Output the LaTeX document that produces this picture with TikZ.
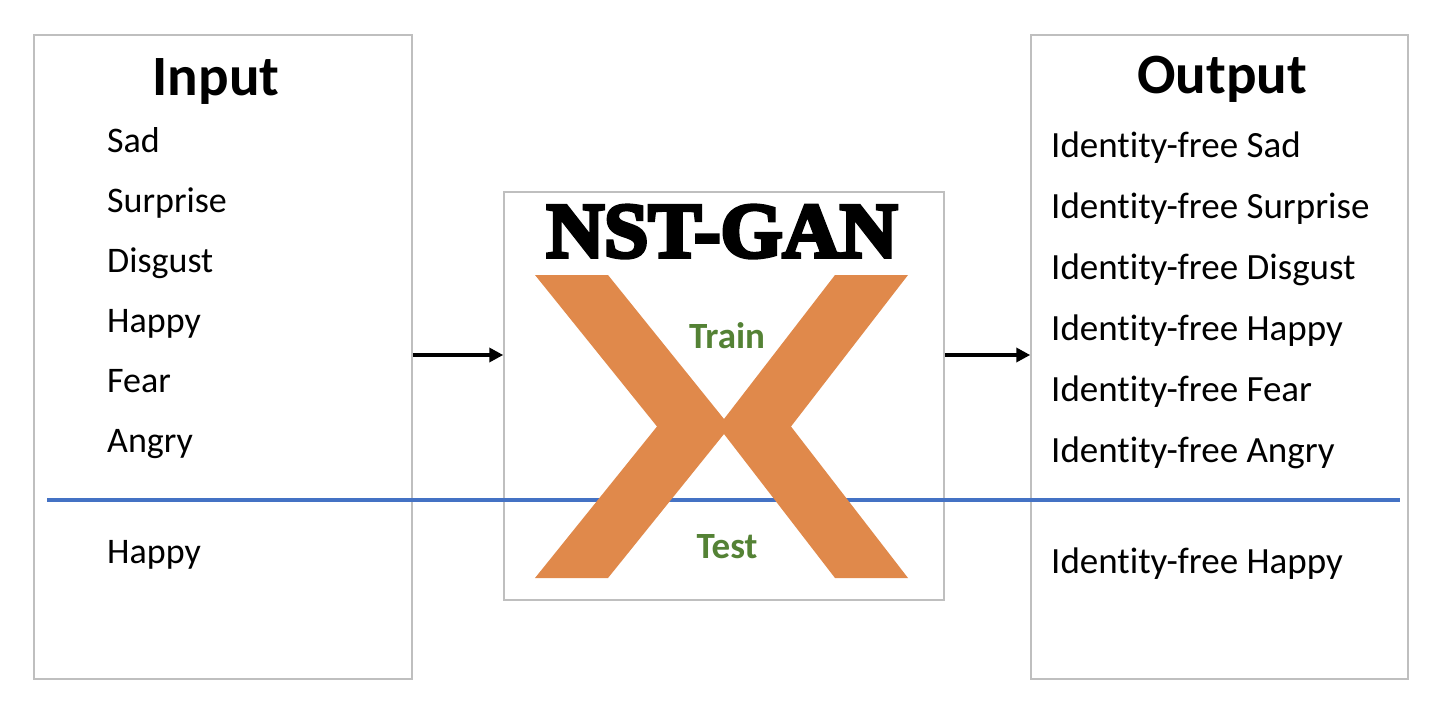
\documentclass[tikz,border=0pt]{standalone}
\usepackage{fontspec}
\setmainfont{Carlito}[Ligatures=NoCommon]
\newfontfamily\heavy[FakeBold=5]{Liberation Serif Bold}
\usetikzlibrary{arrows.meta}
\definecolor{boxgray}{HTML}{BFBFBF}
\definecolor{xorange}{HTML}{E0894B}
\definecolor{tgreen}{HTML}{548235}
\definecolor{lblue}{HTML}{4472C4}
\tikzset{
  panel/.style={draw=boxgray, line width=1.5pt, fill=none, inner sep=0pt},
  header/.style={font=\fontsize{57}{60}\selectfont\bfseries, anchor=base, inner sep=0pt},
  item/.style={font=\fontsize{36}{40}\selectfont, anchor=base west, inner sep=0pt},
  oitem/.style={font=\fontsize{37}{40}\selectfont, anchor=base west, inner sep=0pt},
  phase/.style={font=\fontsize{37}{40}\selectfont\bfseries, text=tgreen, anchor=base, inner sep=0pt},
  arr/.style={line width=4pt, -{Triangle[length=14pt,width=14pt]}},
  divider/.style={draw=lblue, line width=3.5pt}
}
\begin{document}
\begin{tikzpicture}[x=1pt,y=-1pt]
\useasboundingbox (0,0) rectangle (1444,726);
\fill[white] (0,0) rectangle (1444,726);
% panels
\node[panel, minimum width=378pt, minimum height=644pt] (inbox) at (223,357) {};
\node[panel, minimum width=377pt, minimum height=644pt] (outbox) at (1219.5,357) {};
\node[panel, minimum width=440pt, minimum height=408pt] (gan) at (724,396) {};
% divider line
\coordinate (la) at (47,500);
\coordinate (lb) at (1400,500);
\draw[divider] (la) -- (lb);
% X shape
\fill[xorange] (535,275) -- (608,275) -- (724,419) -- (835,275) -- (908,275)
  -- (791,426.5) -- (908,578) -- (835,578) -- (724,434) -- (608,578) -- (535,578)
  -- (657,426.5) -- cycle;
% gan title
\node[anchor=base, inner sep=0pt, font=\heavy\fontsize{78}{80}\selectfont, xscale=1.02] (title) at (722,257) {NST-GAN};
\node[phase] (train) at (727,348) {Train};
\node[phase] (test) at (727,558) {Test};
% headers
\node[header] (inhead) at (216,95) {Input};
\node[header] (outhead) at (1222,93) {Output};
% input items
\node[item] (i1) at (107,152) {Sad};
\node[item] (i2) at (107,212) {Surprise};
\node[item] (i3) at (107,272) {Disgust};
\node[item] (i4) at (107,332) {Happy};
\node[item] (i5) at (107,392) {Fear};
\node[item] (i6) at (107,452) {Angry};
\node[item] (i7) at (107,563) {Happy};
% output items
\node[oitem] (o1) at (1051,157) {Identity-free Sad};
\node[oitem] (o2) at (1051,218) {Identity-free Surprise};
\node[oitem] (o3) at (1051,279) {Identity-free Disgust};
\node[oitem] (o4) at (1051,340) {Identity-free Happy};
\node[oitem] (o5) at (1051,401) {Identity-free Fear};
\node[oitem] (o6) at (1051,462) {Identity-free Angry};
\node[oitem] (o7) at (1051,573) {Identity-free Happy};
% arrows
\coordinate (ay) at (0,355);
\draw[arr] (inbox.east |- ay) -- (gan.west |- ay);
\draw[arr] (gan.east |- ay) -- (outbox.west |- ay);
\end{tikzpicture}
\end{document}
